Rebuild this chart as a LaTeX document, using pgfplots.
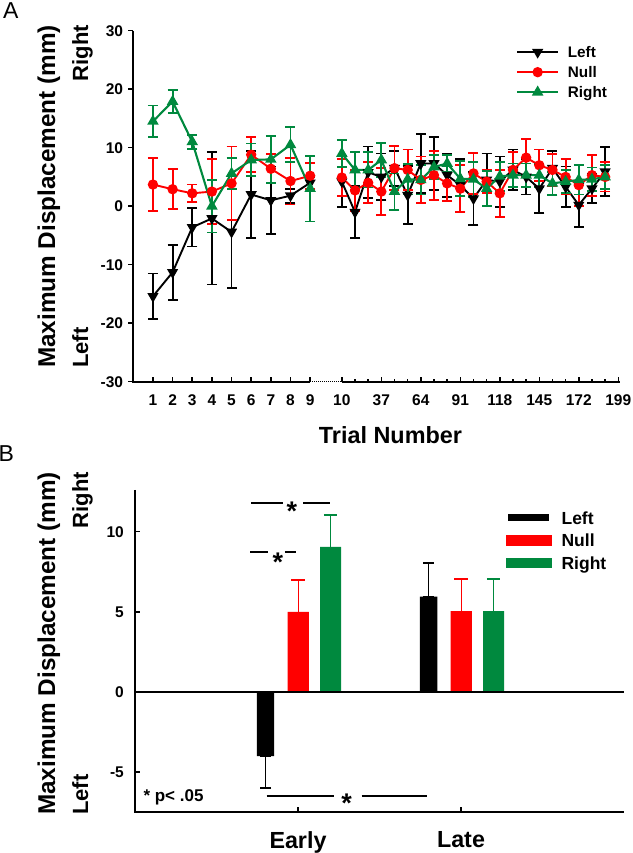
\documentclass[border=0pt]{standalone}
\usepackage{fontspec}
\setmainfont{Liberation Sans}
\usepackage{pgfplots}
\usepackage{pgfplotstable}
\pgfplotsset{compat=1.18}
\definecolor{cRed}{RGB}{255,0,0}
\definecolor{cGreen}{RGB}{0,137,62}
\newcommand\tickfont{\fontsize{15.5}{18}\selectfont\bfseries}

% Panel A, trials 1-9
\pgfplotstableread{
t v e
1 -15.4 3.9
2 -11.3 4.7
3 -3.6 3.3
4 -2.1 11.3
5 -4.4 9.6
6 2.0 7.4
7 1.0 5.8
8 1.8 1.2
9 4.0 1.0
}\LeftOne
\pgfplotstableread{
t v e
1 3.7 4.5
2 2.9 3.4
3 2.2 1.5
4 2.5 5.5
5 3.9 6.3
6 8.8 3.0
7 6.4 2.5
8 4.3 4.0
9 5.2 2.2
}\NullOne
\pgfplotstableread{
t v e
1 14.5 2.7
2 17.9 2.0
3 11.0 1.2
4 0.0 4.5
5 5.6 2.6
6 7.9 2.8
7 8.0 4.0
8 10.5 3.0
9 3.0 5.6
}\RightOne
% Panel A, trials 10-190
\pgfplotstableread{
t v e
10 4.2 4.4
19 -1.0 4.4
28 5.8 4.4
37 5.0 4.0
46 6.5 3.0
55 1.9 5.0
64 7.3 5.0
73 7.3 4.5
82 5.3 3.7
91 3.6 4.5
100 1.3 4.5
109 4.5 4.5
118 4.2 4.3
127 6.2 3.5
136 5.0 3.0
145 3.0 4.2
154 6.5 3.0
163 3.3 3.5
172 0.2 3.7
181 3.0 2.5
190 5.9 4.2
}\LeftTwo
\pgfplotstableread{
t v e
10 4.9 3.2
19 2.7 3.5
28 4.0 3.5
37 2.5 4.0
46 6.5 3.8
55 6.2 3.5
64 4.5 4.0
73 5.3 4.2
82 3.9 3.0
91 3.0 4.0
100 5.6 3.5
109 4.2 2.0
118 2.2 4.0
127 6.2 3.0
136 8.3 3.2
145 7.0 2.7
154 6.2 2.7
163 5.0 3.0
172 3.6 3.5
181 5.3 3.5
190 5.0 2.5
}\NullTwo
\pgfplotstableread{
t v e
10 9.0 2.3
19 6.2 3.0
28 6.2 3.0
37 7.9 2.9
46 2.5 3.1
55 4.6 2.6
64 4.5 2.5
73 6.7 2.0
82 7.3 1.5
91 4.7 3.0
100 4.6 3.0
109 3.0 3.0
118 5.1 2.5
127 5.3 2.0
136 5.3 2.0
145 5.3 2.0
154 3.9 2.0
163 4.2 2.0
172 4.5 2.5
181 4.6 2.0
190 5.0 2.0
}\RightTwo
% Panel B
\pgfplotstableread{
x L Lm Lp N Np R Rp
1 -4.0 2.0 0 5.0 2.0 9.05 2.0
2 5.95 0 2.1 5.05 2.0 5.05 2.0
}\BarsB

\begin{document}
\begin{tikzpicture}
\path[use as bounding box] (0pt,0pt) rectangle (632pt,853pt);

% ---------------- Panel A ----------------
\begin{axis}[
  at={(133.3pt,471.3pt)}, anchor=south west,
  scale only axis, width=486.7pt, height=351pt,
  xmin=0, xmax=24.77, ymin=-30, ymax=30,
  clip=false,
  axis line style={draw=none},
  xtick pos=left, ytick pos=left,
  tick align=inside,
  major tick length=5pt, minor tick length=3pt,
  tick style={line width=1.5pt, black},
  ytick style={xshift=-5pt},
  xtick={1,2,3,4,5,6,7,8,9,10.613,12.623,14.633,16.643,18.653,20.663,22.673,24.683},
  xticklabels={1,2,3,4,5,6,7,8,9,10,37,64,91,118,145,172,199},
  minor xtick={11.283,11.953,13.293,13.963,15.303,15.973,17.313,17.983,19.323,19.993,21.333,22.003,23.343,24.013},
  ytick={-30,-20,-10,0,10,20,30},
  /pgf/number format/assume math mode=true,
  tick label style={font=\tickfont},
  yticklabel style={anchor=east, inner sep=0pt, xshift=-10pt},
  xticklabel style={anchor=north, inner sep=0pt, yshift=-13pt},
  legend style={at={(axis cs:19.48,27.6)}, anchor=north west, draw=none, fill=none,
    inner sep=0pt, row sep=5.5pt, column sep=8.8pt,
    font=\fontsize{15.3}{18}\selectfont\bfseries, nodes={inner sep=0pt}},
  legend cell align=left,
  legend image code/.code={\draw[mark repeat=2,mark phase=2,#1] plot coordinates {(0pt,0pt) (20.35pt,0pt) (40.7pt,0pt)};},
]
\addplot[black, line width=1.9pt, mark=triangle*, mark size=4.6pt, mark options={rotate=180, solid},
  error bars/.cd, y dir=both, y explicit, error bar style={line width=1.8pt},
  error mark options={rotate=90, mark size=5pt, line width=1.8pt}]
  table[x=t, y=v, y error=e] {\LeftOne};
\addlegendentry{\rule[-2pt]{0pt}{15pt}Left}
\addplot[cRed, line width=1.9pt, mark=*, mark size=4.2pt, mark options={solid},
  error bars/.cd, y dir=both, y explicit, error bar style={line width=1.8pt},
  error mark options={rotate=90, mark size=5pt, line width=1.8pt}]
  table[x=t, y=v, y error=e] {\NullOne};
\addlegendentry{\rule[-2pt]{0pt}{15pt}Null}
\addplot[cGreen, line width=2.1pt, mark=triangle*, mark size=4.6pt, mark options={solid},
  error bars/.cd, y dir=both, y explicit, error bar style={line width=1.8pt},
  error mark options={rotate=90, mark size=5pt, line width=1.8pt}]
  table[x=t, y=v, y error=e] {\RightOne};
\addlegendentry{\rule[-2pt]{0pt}{15pt}Right}

\addplot[forget plot, black, line width=1.9pt, mark=triangle*, mark size=4.6pt, mark options={rotate=180, solid},
  x filter/.expression={10.613+(x-10)*0.07444},
  error bars/.cd, y dir=both, y explicit, error bar style={line width=1.8pt},
  error mark options={rotate=90, mark size=5pt, line width=1.8pt}]
  table[x=t, y=v, y error=e] {\LeftTwo};
\addplot[forget plot, cRed, line width=1.9pt, mark=*, mark size=4.2pt, mark options={solid},
  x filter/.expression={10.613+(x-10)*0.07444},
  error bars/.cd, y dir=both, y explicit, error bar style={line width=1.8pt},
  error mark options={rotate=90, mark size=5pt, line width=1.8pt}]
  table[x=t, y=v, y error=e] {\NullTwo};
\addplot[forget plot, cGreen, line width=2.1pt, mark=triangle*, mark size=4.6pt, mark options={solid},
  x filter/.expression={10.613+(x-10)*0.07444},
  error bars/.cd, y dir=both, y explicit, error bar style={line width=1.8pt},
  error mark options={rotate=90, mark size=5pt, line width=1.8pt}]
  table[x=t, y=v, y error=e] {\RightTwo};

\draw[line width=2pt, line join=miter] (axis cs:0,30) -- (axis cs:0,-30) -- (axis cs:9,-30);
\draw[line width=1pt, dash pattern=on 1pt off 1pt] (axis cs:9,-30) -- (axis cs:10.613,-30);
\draw[line width=2pt] (axis cs:10.613,-30) -- (axis cs:24.77,-30);
\end{axis}

% ---------------- Panel B ----------------
\begin{axis}[
  at={(135pt,40.7pt)}, anchor=south west,
  scale only axis, width=489pt, height=322.3pt,
  xmin=0, xmax=3, ymin=-7.5, ymax=12.6,
  clip=false,
  axis line style={draw=none},
  xtick pos=left, ytick pos=left,
  tick align=inside,
  major tick length=5pt,
  tick style={line width=1.5pt, black},
  xtick={1,2}, xticklabels={Early,Late},
  ytick={-5,0,5,10},
  /pgf/number format/assume math mode=true,
  tick label style={font=\tickfont},
  yticklabel style={anchor=east, inner sep=0pt, xshift=-11pt},
  xticklabel style={anchor=north, inner sep=0pt, yshift=-19.4pt, font=\fontsize{23.3}{26}\selectfont\bfseries},
  legend style={at={(axis cs:2.274,11.41)}, anchor=north west, draw=none, fill=none,
    inner sep=0pt, row sep=6.2pt, column sep=9.7pt,
    font=\fontsize{17.5}{20}\selectfont\bfseries, nodes={inner sep=0pt}},
  legend cell align=left,
]
\addplot[ybar, bar width=17.3pt, bar shift=0pt, fill=black, draw=none,
  x filter/.expression={x-0.1988},
  legend image code/.code={\fill[black] (2pt,-3.85pt) rectangle (43.6pt,3.85pt);},
  error bars/.cd, y dir=both, y explicit, error bar style={line width=1.7pt, draw=black},
  error mark options={rotate=90, mark size=5.5pt, line width=1.7pt, draw=black}]
  table[x=x, y=L, y error plus=Lp, y error minus=Lm] {\BarsB};
\addlegendentry{\rule[-2.5pt]{0pt}{17.5pt}Left}
\addplot[ybar, bar width=21.2pt, bar shift=0pt, fill=cRed, draw=none,
  x filter/.expression={x+0.0018},
  legend image code/.code={\fill[cRed] (0pt,-5.35pt) rectangle (46pt,5.35pt);},
  error bars/.cd, y dir=plus, y explicit, error bar style={line width=1.5pt, draw=cRed},
  error mark options={rotate=90, mark size=7pt, line width=1.5pt, draw=cRed}]
  table[x=x, y=N, y error=Np] {\BarsB};
\addlegendentry{\rule[-2.5pt]{0pt}{17.5pt}Null}
\addplot[ybar, bar width=21.2pt, bar shift=0pt, fill=cGreen, draw=none,
  x filter/.expression={x+0.2},
  legend image code/.code={\fill[cGreen] (0pt,-5.35pt) rectangle (46pt,5.35pt);},
  error bars/.cd, y dir=plus, y explicit, error bar style={line width=1.5pt, draw=cGreen},
  error mark options={rotate=90, mark size=6.7pt, line width=1.5pt, draw=cGreen}]
  table[x=x, y=R, y error=Rp] {\BarsB};
\addlegendentry{\rule[-2.5pt]{0pt}{17.5pt}Right}

\draw[line width=2pt, line join=miter] (axis cs:0,12.6) -- (axis cs:0,-7.5) -- (axis cs:3,-7.5);
\draw[line width=2pt] (axis cs:0,0) -- (axis cs:3,0);

% significance marks
\draw[line width=1.8pt] (axis cs:0.712,11.81) -- (axis cs:0.910,11.81);
\draw[line width=1.8pt] (axis cs:1.031,11.81) -- (axis cs:1.196,11.81);
\node[anchor=base, inner sep=0pt, font=\fontsize{27}{30}\selectfont\bfseries] at (axis cs:0.963,10.67) {*};
\draw[line width=1.8pt] (axis cs:0.706,8.71) -- (axis cs:0.816,8.71);
\draw[line width=1.8pt] (axis cs:0.920,8.71) -- (axis cs:0.988,8.71);
\node[anchor=base, inner sep=0pt, font=\fontsize{27}{30}\selectfont\bfseries] at (axis cs:0.877,7.50) {*};
\draw[line width=1.8pt] (axis cs:0.808,-6.46) -- (axis cs:1.221,-6.46);
\draw[line width=1.8pt] (axis cs:1.391,-6.46) -- (axis cs:1.793,-6.46);
\node[anchor=base, inner sep=0pt, font=\fontsize{27}{30}\selectfont\bfseries] at (axis cs:1.299,-7.51) {*};
\node[anchor=base west, inner sep=0pt, font=\fontsize{17}{20}\selectfont\bfseries] at (axis cs:0.051,-6.81) {* p< .05};
\end{axis}

% ---------------- labels ----------------
\node[anchor=base west, inner sep=0pt, font=\fontsize{23}{26}\selectfont] at (3pt,834.7pt) {A};
\node[anchor=base west, inner sep=0pt, font=\fontsize{23}{26}\selectfont] at (-1.5pt,391.3pt) {B};
\node[anchor=base, inner sep=0pt, font=\fontsize{23.4}{26}\selectfont\bfseries] at (390.5pt,409.7pt) {Trial Number};
\node[rotate=90, inner sep=0pt, font=\fontsize{24.3}{33}\selectfont\bfseries] at (65pt,656.5pt)
  {\begin{tabular}{@{}c@{}}Maximum Displacement (mm)\\ {\fontsize{22}{33}\selectfont Left\hfill Right}\end{tabular}};
\node[rotate=90, inner sep=0pt, font=\fontsize{24.3}{33}\selectfont\bfseries] at (65pt,209.5pt)
  {\begin{tabular}{@{}c@{}}Maximum Displacement (mm)\\ {\fontsize{22}{33}\selectfont Left\hfill Right}\end{tabular}};
\end{tikzpicture}
\end{document}
